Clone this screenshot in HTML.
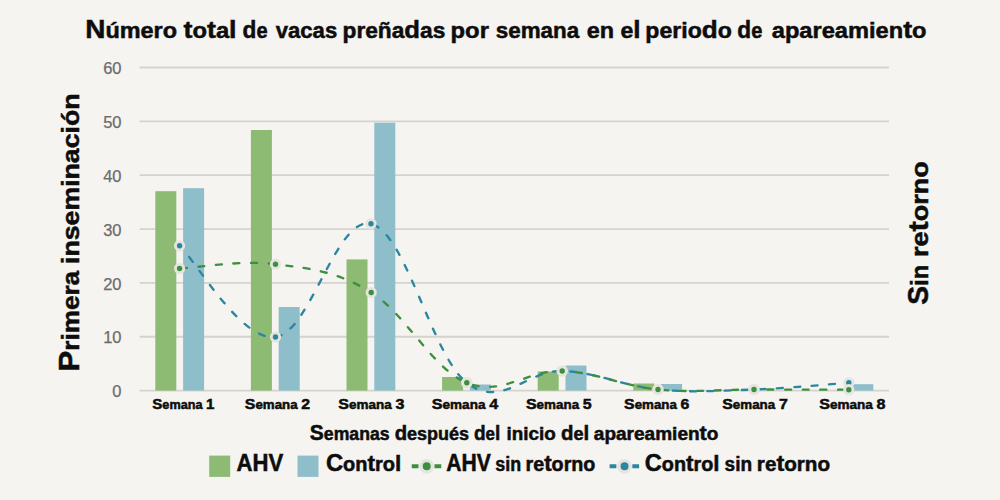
<!DOCTYPE html>
<html><head><meta charset="utf-8">
<style>
html,body{margin:0;padding:0;background:#f5f4f0;width:1000px;height:500px;overflow:hidden;}
svg{display:block;}
.tick{font-family:"Liberation Sans",sans-serif;font-weight:normal;font-size:16.5px;fill:#6c6c6a;stroke:#6c6c6a;stroke-width:0.25px;}
text{font-family:"Liberation Sans",sans-serif;font-weight:bold;fill:#0d0d0d;stroke:#0d0d0d;stroke-width:0.5px;}
.title{font-size:21.67px;}
.axt{font-size:17.81px;}
.leg{font-size:19.40px;}
.xl{font-size:12.60px;}
.yt{font-size:24.53px;}
.yt2{font-size:24.78px;}
</style></head><body>
<svg width="1000" height="500" viewBox="0 0 1000 500">
<rect width="1000" height="500" fill="#f5f4f0"/>
<line x1="139.6" x2="889" y1="390.60" y2="390.60" stroke="#d5d3ce" stroke-width="1.8"/>
<line x1="139.6" x2="889" y1="336.75" y2="336.75" stroke="#d5d3ce" stroke-width="1.8"/>
<line x1="139.6" x2="889" y1="282.90" y2="282.90" stroke="#d5d3ce" stroke-width="1.8"/>
<line x1="139.6" x2="889" y1="229.05" y2="229.05" stroke="#d5d3ce" stroke-width="1.8"/>
<line x1="139.6" x2="889" y1="175.20" y2="175.20" stroke="#d5d3ce" stroke-width="1.8"/>
<line x1="139.6" x2="889" y1="121.35" y2="121.35" stroke="#d5d3ce" stroke-width="1.8"/>
<line x1="139.6" x2="889" y1="67.50" y2="67.50" stroke="#d5d3ce" stroke-width="1.8"/>
<text x="121.5" y="397.20" text-anchor="end" class="tick">0</text>
<text x="121.5" y="343.35" text-anchor="end" class="tick">10</text>
<text x="121.5" y="289.50" text-anchor="end" class="tick">20</text>
<text x="121.5" y="235.65" text-anchor="end" class="tick">30</text>
<text x="121.5" y="181.80" text-anchor="end" class="tick">40</text>
<text x="121.5" y="127.95" text-anchor="end" class="tick">50</text>
<text x="121.5" y="74.10" text-anchor="end" class="tick">60</text>
<rect x="155.30" y="191.20" width="21" height="199.40" fill="#8dbb73"/>
<rect x="183.10" y="188.20" width="21" height="202.40" fill="#8fbecb"/>
<rect x="250.90" y="130.00" width="21" height="260.60" fill="#8dbb73"/>
<rect x="278.70" y="307.00" width="21" height="83.60" fill="#8fbecb"/>
<rect x="346.50" y="259.40" width="21" height="131.20" fill="#8dbb73"/>
<rect x="374.30" y="122.70" width="21" height="267.90" fill="#8fbecb"/>
<rect x="442.10" y="377.00" width="21" height="13.60" fill="#8dbb73"/>
<rect x="469.90" y="384.50" width="21" height="6.10" fill="#8fbecb"/>
<rect x="537.70" y="371.50" width="21" height="19.10" fill="#8dbb73"/>
<rect x="565.50" y="365.50" width="21" height="25.10" fill="#8fbecb"/>
<rect x="633.30" y="383.50" width="21" height="7.10" fill="#8dbb73"/>
<rect x="661.10" y="384.00" width="21" height="6.60" fill="#8fbecb"/>
<rect x="852.30" y="384.20" width="21" height="6.40" fill="#8fbecb"/>
<path d="M179.60,245.80 C197.04,262.38 240.70,341.00 275.50,337.00 C310.30,333.00 336.22,215.47 371.00,223.80 C405.78,232.13 432.04,356.04 466.80,382.80 C501.56,409.56 527.44,369.78 562.20,371.00 C596.96,372.22 623.13,386.14 658.00,389.50 C692.87,392.86 719.31,390.72 754.00,389.50 C788.69,388.28 831.56,384.02 848.80,382.80" fill="none" stroke="#2b86a0" stroke-width="2.35" stroke-linecap="round" stroke-dasharray="6 11.38" stroke-dashoffset="2.53"/>
<path d="M179.60,268.50 C197.04,267.72 240.66,259.84 275.50,264.20 C310.34,268.56 336.42,270.94 371.20,292.50 C405.98,314.06 432.07,368.53 466.80,382.80 C501.53,397.07 527.44,369.78 562.20,371.00 C596.96,372.22 623.13,386.14 658.00,389.50 C692.87,392.86 719.31,389.46 754.00,389.50 C788.69,389.54 831.56,389.66 848.80,389.70" fill="none" stroke="#3d8f40" stroke-width="2.35" stroke-linecap="round" stroke-dasharray="6 11.59" stroke-dashoffset="-1.36"/>
<circle cx="179.60" cy="245.80" r="4.15" fill="#2b86a0" stroke="#e6e4df" stroke-width="2.9"/>
<circle cx="275.50" cy="337.00" r="4.15" fill="#2b86a0" stroke="#e6e4df" stroke-width="2.9"/>
<circle cx="371.00" cy="223.80" r="4.15" fill="#2b86a0" stroke="#e6e4df" stroke-width="2.9"/>
<circle cx="466.80" cy="382.80" r="4.15" fill="#2b86a0" stroke="#e6e4df" stroke-width="2.9"/>
<circle cx="562.20" cy="371.00" r="4.15" fill="#2b86a0" stroke="#e6e4df" stroke-width="2.9"/>
<circle cx="658.00" cy="389.50" r="4.15" fill="#2b86a0" stroke="#e6e4df" stroke-width="2.9"/>
<circle cx="754.00" cy="389.50" r="4.15" fill="#2b86a0" stroke="#e6e4df" stroke-width="2.9"/>
<circle cx="848.80" cy="382.80" r="4.15" fill="#2b86a0" stroke="#e6e4df" stroke-width="2.9"/>
<circle cx="179.60" cy="268.50" r="4.15" fill="#3d8f40" stroke="#e6e4df" stroke-width="2.9"/>
<circle cx="275.50" cy="264.20" r="4.15" fill="#3d8f40" stroke="#e6e4df" stroke-width="2.9"/>
<circle cx="371.20" cy="292.50" r="4.15" fill="#3d8f40" stroke="#e6e4df" stroke-width="2.9"/>
<circle cx="466.80" cy="382.80" r="4.15" fill="#3d8f40" stroke="#e6e4df" stroke-width="2.9"/>
<circle cx="562.20" cy="371.00" r="4.15" fill="#3d8f40" stroke="#e6e4df" stroke-width="2.9"/>
<circle cx="658.00" cy="389.50" r="4.15" fill="#3d8f40" stroke="#e6e4df" stroke-width="2.9"/>
<circle cx="754.00" cy="389.50" r="4.15" fill="#3d8f40" stroke="#e6e4df" stroke-width="2.9"/>
<circle cx="848.80" cy="389.70" r="4.15" fill="#3d8f40" stroke="#e6e4df" stroke-width="2.9"/>
<text x="85.265" y="37.70" class="title" textLength="91.787" lengthAdjust="spacingAndGlyphs"><tspan font-size="25.80">N</tspan><tspan font-size="21.67">ú</tspan><tspan font-size="21.67">m</tspan><tspan font-size="21.67">e</tspan><tspan font-size="21.67">r</tspan><tspan font-size="21.67">o</tspan></text>
<text x="183.468" y="37.70" class="title" textLength="53.110" lengthAdjust="spacingAndGlyphs"><tspan font-size="24.51">t</tspan><tspan font-size="21.67">o</tspan><tspan font-size="24.51">t</tspan><tspan font-size="21.67">a</tspan><tspan font-size="24.51">l</tspan></text>
<text x="242.558" y="37.70" class="title" textLength="24.978" lengthAdjust="spacingAndGlyphs"><tspan font-size="24.51">d</tspan><tspan font-size="21.67">e</tspan></text>
<text x="275.785" y="37.70" class="title" textLength="61.393" lengthAdjust="spacingAndGlyphs"><tspan font-size="21.67">v</tspan><tspan font-size="21.67">a</tspan><tspan font-size="21.67">c</tspan><tspan font-size="21.67">a</tspan><tspan font-size="21.67">s</tspan></text>
<text x="342.515" y="37.70" class="title" textLength="102.827" lengthAdjust="spacingAndGlyphs"><tspan font-size="21.67">p</tspan><tspan font-size="21.67">r</tspan><tspan font-size="21.67">e</tspan><tspan font-size="21.67">ñ</tspan><tspan font-size="21.67">a</tspan><tspan font-size="24.51">d</tspan><tspan font-size="21.67">a</tspan><tspan font-size="21.67">s</tspan></text>
<text x="450.578" y="37.70" class="title" textLength="38.360" lengthAdjust="spacingAndGlyphs"><tspan font-size="21.67">p</tspan><tspan font-size="21.67">o</tspan><tspan font-size="21.67">r</tspan></text>
<text x="495.741" y="37.70" class="title" textLength="83.463" lengthAdjust="spacingAndGlyphs"><tspan font-size="21.67">s</tspan><tspan font-size="21.67">e</tspan><tspan font-size="21.67">m</tspan><tspan font-size="21.67">a</tspan><tspan font-size="21.67">n</tspan><tspan font-size="21.67">a</tspan></text>
<text x="586.762" y="37.70" class="title" textLength="27.320" lengthAdjust="spacingAndGlyphs"><tspan font-size="21.67">e</tspan><tspan font-size="21.67">n</tspan></text>
<text x="620.392" y="37.70" class="title" textLength="20.128" lengthAdjust="spacingAndGlyphs"><tspan font-size="21.67">e</tspan><tspan font-size="24.51">l</tspan></text>
<text x="645.330" y="37.70" class="title" textLength="86.470" lengthAdjust="spacingAndGlyphs"><tspan font-size="21.67">p</tspan><tspan font-size="21.67">e</tspan><tspan font-size="21.67">r</tspan><tspan font-size="21.67">i</tspan><tspan font-size="21.67">o</tspan><tspan font-size="24.51">d</tspan><tspan font-size="21.67">o</tspan></text>
<text x="737.358" y="37.70" class="title" textLength="24.978" lengthAdjust="spacingAndGlyphs"><tspan font-size="24.51">d</tspan><tspan font-size="21.67">e</tspan></text>
<text x="771.768" y="37.70" class="title" textLength="154.734" lengthAdjust="spacingAndGlyphs"><tspan font-size="21.67">a</tspan><tspan font-size="21.67">p</tspan><tspan font-size="21.67">a</tspan><tspan font-size="21.67">r</tspan><tspan font-size="21.67">e</tspan><tspan font-size="21.67">a</tspan><tspan font-size="21.67">m</tspan><tspan font-size="21.67">i</tspan><tspan font-size="21.67">e</tspan><tspan font-size="21.67">n</tspan><tspan font-size="24.51">t</tspan><tspan font-size="21.67">o</tspan></text>
<text x="309.838" y="440.00" class="axt" textLength="79.686" lengthAdjust="spacingAndGlyphs"><tspan font-size="21.20">S</tspan><tspan font-size="17.81">e</tspan><tspan font-size="17.81">m</tspan><tspan font-size="17.81">a</tspan><tspan font-size="17.81">n</tspan><tspan font-size="17.81">a</tspan><tspan font-size="17.81">s</tspan></text>
<text x="394.723" y="440.00" class="axt" textLength="74.367" lengthAdjust="spacingAndGlyphs"><tspan font-size="20.14">d</tspan><tspan font-size="17.81">e</tspan><tspan font-size="17.81">s</tspan><tspan font-size="17.81">p</tspan><tspan font-size="17.81">u</tspan><tspan font-size="17.81">é</tspan><tspan font-size="17.81">s</tspan></text>
<text x="473.966" y="440.00" class="axt" textLength="26.291" lengthAdjust="spacingAndGlyphs"><tspan font-size="20.14">d</tspan><tspan font-size="17.81">e</tspan><tspan font-size="20.14">l</tspan></text>
<text x="506.582" y="440.00" class="axt" textLength="49.242" lengthAdjust="spacingAndGlyphs"><tspan font-size="17.81">i</tspan><tspan font-size="17.81">n</tspan><tspan font-size="17.81">i</tspan><tspan font-size="17.81">c</tspan><tspan font-size="17.81">i</tspan><tspan font-size="17.81">o</tspan></text>
<text x="561.003" y="440.00" class="axt" textLength="28.200" lengthAdjust="spacingAndGlyphs"><tspan font-size="20.14">d</tspan><tspan font-size="17.81">e</tspan><tspan font-size="20.14">l</tspan></text>
<text x="593.825" y="440.00" class="axt" textLength="124.575" lengthAdjust="spacingAndGlyphs"><tspan font-size="17.81">a</tspan><tspan font-size="17.81">p</tspan><tspan font-size="17.81">a</tspan><tspan font-size="17.81">r</tspan><tspan font-size="17.81">e</tspan><tspan font-size="17.81">a</tspan><tspan font-size="17.81">m</tspan><tspan font-size="17.81">i</tspan><tspan font-size="17.81">e</tspan><tspan font-size="17.81">n</tspan><tspan font-size="20.14">t</tspan><tspan font-size="17.81">o</tspan></text>
<text x="152.278" y="408.80" class="xl" textLength="62.187" lengthAdjust="spacingAndGlyphs"><tspan font-size="15.00">S</tspan><tspan font-size="12.60">e</tspan><tspan font-size="12.60">m</tspan><tspan font-size="12.60">a</tspan><tspan font-size="12.60">n</tspan><tspan font-size="12.60">a</tspan> <tspan font-size="15.00">1</tspan></text>
<text x="244.839" y="408.80" class="xl" textLength="65.245" lengthAdjust="spacingAndGlyphs"><tspan font-size="15.00">S</tspan><tspan font-size="12.60">e</tspan><tspan font-size="12.60">m</tspan><tspan font-size="12.60">a</tspan><tspan font-size="12.60">n</tspan><tspan font-size="12.60">a</tspan> <tspan font-size="15.00">2</tspan></text>
<text x="338.389" y="408.80" class="xl" textLength="66.168" lengthAdjust="spacingAndGlyphs"><tspan font-size="15.00">S</tspan><tspan font-size="12.60">e</tspan><tspan font-size="12.60">m</tspan><tspan font-size="12.60">a</tspan><tspan font-size="12.60">n</tspan><tspan font-size="12.60">a</tspan> <tspan font-size="15.00">3</tspan></text>
<text x="431.791" y="408.80" class="xl" textLength="66.402" lengthAdjust="spacingAndGlyphs"><tspan font-size="15.00">S</tspan><tspan font-size="12.60">e</tspan><tspan font-size="12.60">m</tspan><tspan font-size="12.60">a</tspan><tspan font-size="12.60">n</tspan><tspan font-size="12.60">a</tspan> <tspan font-size="15.00">4</tspan></text>
<text x="525.932" y="408.80" class="xl" textLength="65.799" lengthAdjust="spacingAndGlyphs"><tspan font-size="15.00">S</tspan><tspan font-size="12.60">e</tspan><tspan font-size="12.60">m</tspan><tspan font-size="12.60">a</tspan><tspan font-size="12.60">n</tspan><tspan font-size="12.60">a</tspan> <tspan font-size="15.00">5</tspan></text>
<text x="624.129" y="408.80" class="xl" textLength="65.321" lengthAdjust="spacingAndGlyphs"><tspan font-size="15.00">S</tspan><tspan font-size="12.60">e</tspan><tspan font-size="12.60">m</tspan><tspan font-size="12.60">a</tspan><tspan font-size="12.60">n</tspan><tspan font-size="12.60">a</tspan> <tspan font-size="15.00">6</tspan></text>
<text x="722.249" y="408.80" class="xl" textLength="65.493" lengthAdjust="spacingAndGlyphs"><tspan font-size="15.00">S</tspan><tspan font-size="12.60">e</tspan><tspan font-size="12.60">m</tspan><tspan font-size="12.60">a</tspan><tspan font-size="12.60">n</tspan><tspan font-size="12.60">a</tspan> <tspan font-size="15.00">7</tspan></text>
<text x="819.197" y="408.80" class="xl" textLength="66.394" lengthAdjust="spacingAndGlyphs"><tspan font-size="15.00">S</tspan><tspan font-size="12.60">e</tspan><tspan font-size="12.60">m</tspan><tspan font-size="12.60">a</tspan><tspan font-size="12.60">n</tspan><tspan font-size="12.60">a</tspan> <tspan font-size="15.00">8</tspan></text>
<text x="236.514" y="470.80" class="leg" textLength="46.687" lengthAdjust="spacingAndGlyphs"><tspan font-size="23.10">A</tspan><tspan font-size="23.10">H</tspan><tspan font-size="23.10">V</tspan></text>
<text x="325.914" y="470.80" class="leg" textLength="75.453" lengthAdjust="spacingAndGlyphs"><tspan font-size="23.10">C</tspan><tspan font-size="19.40">o</tspan><tspan font-size="19.40">n</tspan><tspan font-size="21.95">t</tspan><tspan font-size="19.40">r</tspan><tspan font-size="19.40">o</tspan><tspan font-size="21.95">l</tspan></text>
<text x="446.309" y="470.80" class="leg" textLength="44.575" lengthAdjust="spacingAndGlyphs"><tspan font-size="23.10">A</tspan><tspan font-size="23.10">H</tspan><tspan font-size="23.10">V</tspan></text>
<text x="495.334" y="470.80" class="leg" textLength="25.870" lengthAdjust="spacingAndGlyphs"><tspan font-size="19.40">s</tspan><tspan font-size="19.40">i</tspan><tspan font-size="19.40">n</tspan></text>
<text x="525.540" y="470.80" class="leg" textLength="69.865" lengthAdjust="spacingAndGlyphs"><tspan font-size="19.40">r</tspan><tspan font-size="19.40">e</tspan><tspan font-size="21.95">t</tspan><tspan font-size="19.40">o</tspan><tspan font-size="19.40">r</tspan><tspan font-size="19.40">n</tspan><tspan font-size="19.40">o</tspan></text>
<text x="644.836" y="470.80" class="leg" textLength="74.773" lengthAdjust="spacingAndGlyphs"><tspan font-size="23.10">C</tspan><tspan font-size="19.40">o</tspan><tspan font-size="19.40">n</tspan><tspan font-size="21.95">t</tspan><tspan font-size="19.40">r</tspan><tspan font-size="19.40">o</tspan><tspan font-size="21.95">l</tspan></text>
<text x="724.582" y="470.80" class="leg" textLength="27.555" lengthAdjust="spacingAndGlyphs"><tspan font-size="19.40">s</tspan><tspan font-size="19.40">i</tspan><tspan font-size="19.40">n</tspan></text>
<text x="756.862" y="470.80" class="leg" textLength="73.300" lengthAdjust="spacingAndGlyphs"><tspan font-size="19.40">r</tspan><tspan font-size="19.40">e</tspan><tspan font-size="21.95">t</tspan><tspan font-size="19.40">o</tspan><tspan font-size="19.40">r</tspan><tspan font-size="19.40">n</tspan><tspan font-size="19.40">o</tspan></text>
<text transform="translate(78.80,0) rotate(-90)" x="-371.495" y="0" class="yt" textLength="100.591" lengthAdjust="spacingAndGlyphs"><tspan font-size="29.20">P</tspan><tspan font-size="24.53">r</tspan><tspan font-size="24.53">i</tspan><tspan font-size="24.53">m</tspan><tspan font-size="24.53">e</tspan><tspan font-size="24.53">r</tspan><tspan font-size="24.53">a</tspan></text>
<text transform="translate(78.80,0) rotate(-90)" x="-264.031" y="0" class="yt" textLength="170.595" lengthAdjust="spacingAndGlyphs"><tspan font-size="24.53">i</tspan><tspan font-size="24.53">n</tspan><tspan font-size="24.53">s</tspan><tspan font-size="24.53">e</tspan><tspan font-size="24.53">m</tspan><tspan font-size="24.53">i</tspan><tspan font-size="24.53">n</tspan><tspan font-size="24.53">a</tspan><tspan font-size="24.53">c</tspan><tspan font-size="24.53">i</tspan><tspan font-size="24.53">ó</tspan><tspan font-size="24.53">n</tspan></text>
<text transform="translate(927.70,0) rotate(-90)" x="-304.752" y="0" class="yt2" textLength="39.888" lengthAdjust="spacingAndGlyphs"><tspan font-size="29.50">S</tspan><tspan font-size="24.78">i</tspan><tspan font-size="24.78">n</tspan></text>
<text transform="translate(927.70,0) rotate(-90)" x="-257.071" y="0" class="yt2" textLength="95.851" lengthAdjust="spacingAndGlyphs"><tspan font-size="24.78">r</tspan><tspan font-size="24.78">e</tspan><tspan font-size="28.02">t</tspan><tspan font-size="24.78">o</tspan><tspan font-size="24.78">r</tspan><tspan font-size="24.78">n</tspan><tspan font-size="24.78">o</tspan></text>
<rect x="209.2" y="455.6" width="21" height="21.3" fill="#8dbb73"/>
<rect x="297.5" y="455.6" width="21" height="21.3" fill="#8fbecb"/>
<rect x="411.75" y="464.25" width="6.75" height="4" fill="#3d8f40"/><rect x="434.50" y="464.25" width="6.75" height="4" fill="#3d8f40"/><circle cx="426.70" cy="466.35" r="5.7" fill="#3d8f40" stroke="#e6e4df" stroke-width="3.4"/>
<rect x="609.60" y="464.25" width="6.75" height="4" fill="#2b86a0"/><rect x="632.35" y="464.25" width="6.75" height="4" fill="#2b86a0"/><circle cx="624.55" cy="466.35" r="5.7" fill="#2b86a0" stroke="#e6e4df" stroke-width="3.4"/>
</svg>
</body></html>
